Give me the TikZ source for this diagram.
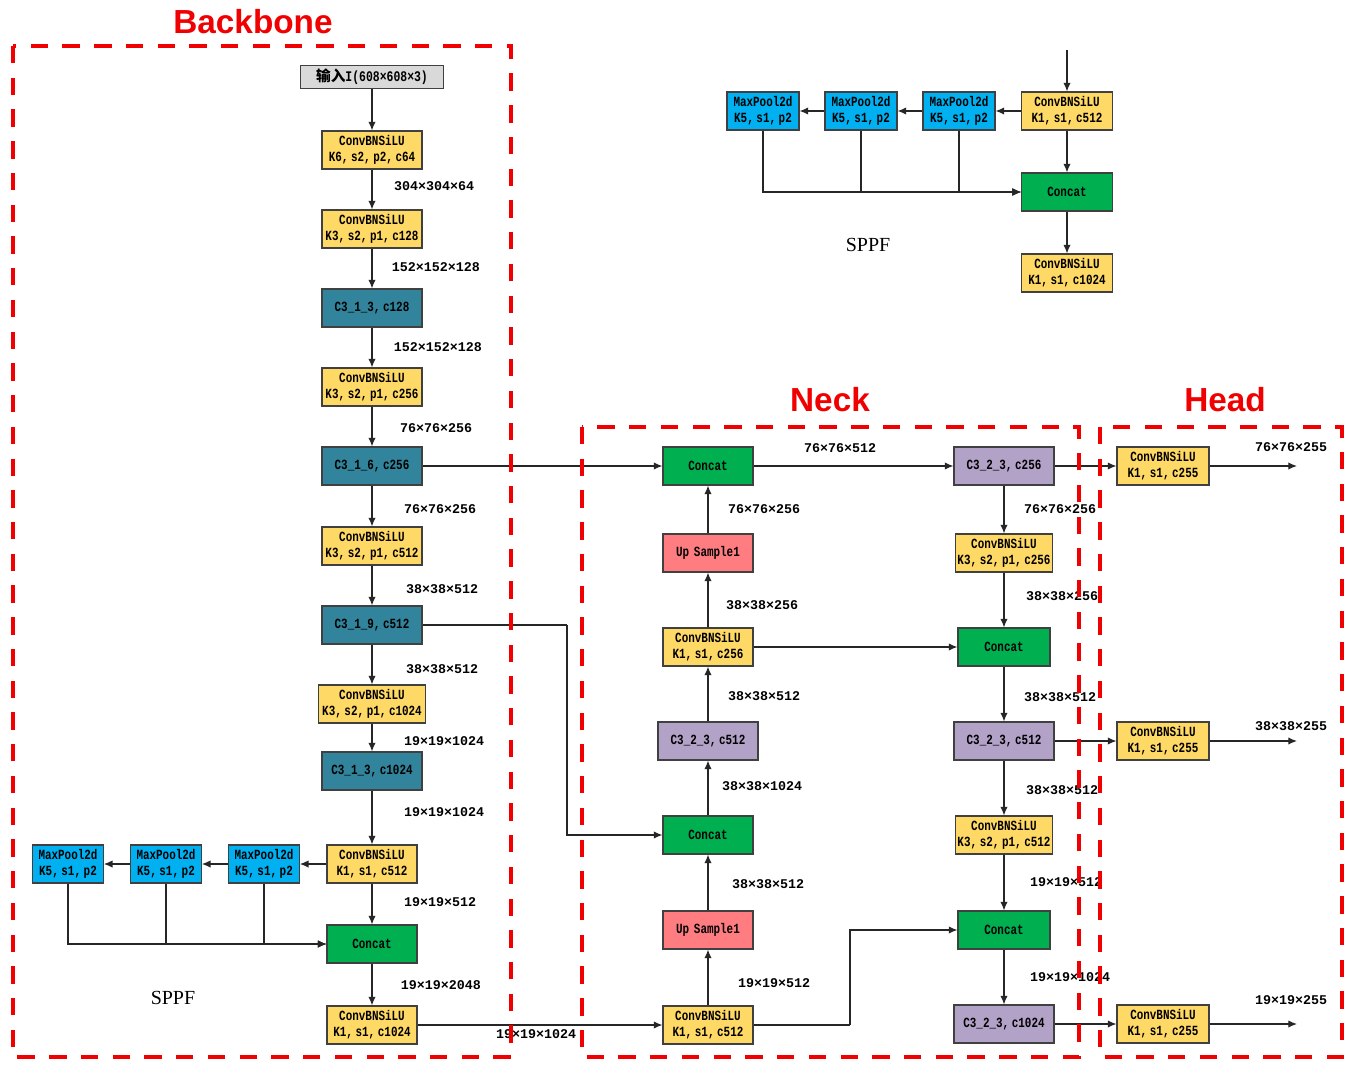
\documentclass[tikz,border=0pt]{standalone}
\usepackage{fontspec}
\usetikzlibrary{positioning,arrows.meta,calc}
\setmainfont{Liberation Serif}
\newfontfamily\boxfont[FakeStretch=0.78,WordSpace=0.4]{Liberation Mono}
\newfontfamily\dimfont{Liberation Mono}
\newfontfamily\titlefont{Liberation Sans}
\newfontfamily\cjkfont{Noto Sans CJK SC}
\definecolor{convyellow}{HTML}{FFD966}
\definecolor{cspteal}{HTML}{31849B}
\definecolor{catgreen}{HTML}{00B050}
\definecolor{poolblue}{HTML}{00B0F0}
\definecolor{uppink}{HTML}{FF7C80}
\definecolor{csppurple}{HTML}{B3A2C7}
\definecolor{inputgray}{HTML}{D9D9D9}
\definecolor{partred}{HTML}{F00000}
\tikzset{
  blk/.style={draw=black!75, line width=0.8pt, inner sep=0pt, align=center, minimum height=28.5pt, font=\boxfont\bfseries\fontsize{10.5}{12}\selectfont},
  conv/.style={blk, fill=convyellow, minimum width=75pt},
  csp/.style={blk, fill=cspteal, minimum width=75pt},
  cspn/.style={blk, fill=csppurple, minimum width=75pt},
  cat/.style={blk, fill=catgreen, minimum width=67.5pt},
  upsm/.style={blk, fill=uppink, minimum width=67.5pt},
  pool/.style={blk, fill=poolblue, minimum width=53pt},
  dim/.style={inner sep=0pt, font=\dimfont\bfseries\fontsize{10}{12}\selectfont},
  flow/.style={-{Latex[length=6.5pt,width=5.5pt]}, line width=0.9pt, draw=black!85},
  link/.style={line width=0.9pt, draw=black!85},
  part/.style={draw=partred, line width=3pt, dash pattern=on 13pt off 10.8pt},
  parttitle/.style={inner sep=0pt, text=partred, font=\titlefont\bfseries\fontsize{25}{30}\selectfont},
  sppftitle/.style={inner sep=0pt, font=\fontsize{15}{18}\selectfont}
}
\begin{document}
\begin{tikzpicture}[x=0.75pt, y=-0.75pt]
\useasboundingbox (0,0) rectangle (1362,1067);
% backbone
\node[blk, fill=inputgray, minimum width=107pt, minimum height=17pt, font=\boxfont\bfseries\fontsize{11}{12}\selectfont] (inp) at (372,77) {{\cjkfont 输入}I(608×608×3)};
\node[conv] (b1) at (372,150) {ConvBNSiLU\\K6, s2, p2, c64};
\node[conv] (b2) at (372,229) {ConvBNSiLU\\K3, s2, p1, c128};
\node[csp] (b3) at (372,308) {C3\_1\_3, c128};
\node[conv] (b4) at (372,387) {ConvBNSiLU\\K3, s2, p1, c256};
\node[csp] (b5) at (372,466) {C3\_1\_6, c256};
\node[conv] (b6) at (372,546) {ConvBNSiLU\\K3, s2, p1, c512};
\node[csp] (b7) at (372,625) {C3\_1\_9, c512};
\node[conv, minimum width=80pt] (b8) at (372,704) {ConvBNSiLU\\K3, s2, p1, c1024};
\node[csp] (b9) at (372,771) {C3\_1\_3, c1024};
\node[conv, minimum width=67.5pt] (b10) at (372,864) {ConvBNSiLU\\K1, s1, c512};
\node[cat] (b11) at (372,944) {Concat};
\node[conv, minimum width=67.5pt] (b12) at (372,1025) {ConvBNSiLU\\K1, s1, c1024};
\node[pool] (bp1) at (264,864) {MaxPool2d\\K5, s1, p2};
\node[pool] (bp2) at (166,864) {MaxPool2d\\K5, s1, p2};
\node[pool] (bp3) at (68,864) {MaxPool2d\\K5, s1, p2};
\node[sppftitle] (bsppf) at (173,998) {SPPF};
\draw[flow] (inp) -- (b1);
\draw[flow] (b1) -- (b2);
\draw[flow] (b2) -- (b3);
\draw[flow] (b3) -- (b4);
\draw[flow] (b4) -- (b5);
\draw[flow] (b5) -- (b6);
\draw[flow] (b6) -- (b7);
\draw[flow] (b7) -- (b8);
\draw[flow] (b8) -- (b9);
\draw[flow] (b9) -- (b10);
\draw[flow] (b10) -- (b11);
\draw[flow] (b11) -- (b12);
\draw[flow] (b10) -- (bp1);
\draw[flow] (bp1) -- (bp2);
\draw[flow] (bp2) -- (bp3);
\draw[flow] (bp1) |- (b11);
\draw[flow] (bp2) |- (b11);
\draw[flow] (bp3) |- (b11);
\node[dim] (d1) at (434,186) {304×304×64};
\node[dim] (d2) at (436,267) {152×152×128};
\node[dim] (d3) at (438,347) {152×152×128};
\node[dim] (d4) at (436,428) {76×76×256};
\node[dim] (d5) at (440,509) {76×76×256};
\node[dim] (d6) at (442,589) {38×38×512};
\node[dim] (d7) at (442,669) {38×38×512};
\node[dim] (d8) at (444,741) {19×19×1024};
\node[dim] (d9) at (444,812) {19×19×1024};
\node[dim] (d10) at (440,902) {19×19×512};
\node[dim] (d11) at (441,985) {19×19×2048};
% sppf detail
\coordinate (sin) at (1067,50);
\node[conv, minimum width=68pt] (s1) at (1067,111) {ConvBNSiLU\\K1, s1, c512};
\node[pool, minimum width=54pt] (sp1) at (959,111) {MaxPool2d\\K5, s1, p2};
\node[pool, minimum width=54pt] (sp2) at (861,111) {MaxPool2d\\K5, s1, p2};
\node[pool, minimum width=54pt] (sp3) at (763,111) {MaxPool2d\\K5, s1, p2};
\node[cat, minimum width=68pt] (s2) at (1067,192) {Concat};
\node[conv, minimum width=68pt] (s3) at (1067,273) {ConvBNSiLU\\K1, s1, c1024};
\node[sppftitle] (ssppf) at (868,245) {SPPF};
\draw[flow] (sin) -- (s1);
\draw[flow] (s1) -- (sp1);
\draw[flow] (sp1) -- (sp2);
\draw[flow] (sp2) -- (sp3);
\draw[flow] (s1) -- (s2);
\draw[flow] (s2) -- (s3);
\draw[flow] (sp1) |- (s2);
\draw[flow] (sp2) |- (s2);
\draw[flow] (sp3) |- (s2);
% neck
\node[cat] (n1) at (708,466) {Concat};
\node[upsm] (n2) at (708,553) {Up\hspace{3.5pt}Sample1};
\node[conv, minimum width=67.5pt] (n3) at (708,647) {ConvBNSiLU\\K1, s1, c256};
\node[cspn] (n4) at (708,741) {C3\_2\_3, c512};
\node[cat] (n5) at (708,835) {Concat};
\node[upsm] (n6) at (708,930) {Up\hspace{3.5pt}Sample1};
\node[conv, minimum width=67.5pt] (n7) at (708,1025) {ConvBNSiLU\\K1, s1, c512};
\node[cspn] (m1) at (1004,466) {C3\_2\_3, c256};
\node[conv, minimum width=73pt] (m2) at (1004,553) {ConvBNSiLU\\K3, s2, p1, c256};
\node[cat, minimum width=69pt] (m3) at (1004,647) {Concat};
\node[cspn] (m4) at (1004,741) {C3\_2\_3, c512};
\node[conv, minimum width=73pt] (m5) at (1004,835) {ConvBNSiLU\\K3, s2, p1, c512};
\node[cat, minimum width=69pt] (m6) at (1004,930) {Concat};
\node[cspn] (m7) at (1004,1024) {C3\_2\_3, c1024};
\coordinate (k1) at (567,625);
\coordinate (k2) at (850,1025);
\draw[flow] (b5) -- (n1);
\draw[link] (b7) -- (k1);
\draw[flow] (k1) |- (n5);
\draw[flow] (b12) -- (n7);
\draw[flow] (n7) -- (n6);
\draw[flow] (n6) -- (n5);
\draw[flow] (n5) -- (n4);
\draw[flow] (n4) -- (n3);
\draw[flow] (n3) -- (n2);
\draw[flow] (n2) -- (n1);
\draw[flow] (n1) -- (m1);
\draw[flow] (n3) -- (m3);
\draw[link] (n7) -- (k2);
\draw[flow] (k2) |- (m6);
\draw[flow] (m1) -- (m2);
\draw[flow] (m2) -- (m3);
\draw[flow] (m3) -- (m4);
\draw[flow] (m4) -- (m5);
\draw[flow] (m5) -- (m6);
\draw[flow] (m6) -- (m7);
\node[dim] (e1) at (840,448) {76×76×512};
\node[dim] (e2) at (764,509) {76×76×256};
\node[dim] (e3) at (762,605) {38×38×256};
\node[dim] (e4) at (764,696) {38×38×512};
\node[dim] (e5) at (762,786) {38×38×1024};
\node[dim] (e6) at (768,884) {38×38×512};
\node[dim] (e7) at (774,983) {19×19×512};
\node[dim] (e8) at (536,1034) {19×19×1024};
\node[dim] (f1) at (1060,509) {76×76×256};
\node[dim] (f2) at (1062,596) {38×38×256};
\node[dim] (f3) at (1060,697) {38×38×512};
\node[dim] (f4) at (1062,790) {38×38×512};
\node[dim] (f5) at (1066,882) {19×19×512};
\node[dim] (f6) at (1070,977) {19×19×1024};
% head
\node[conv, minimum width=69pt] (h1) at (1163,466) {ConvBNSiLU\\K1, s1, c255};
\node[conv, minimum width=69pt] (h2) at (1163,741) {ConvBNSiLU\\K1, s1, c255};
\node[conv, minimum width=69pt] (h3) at (1163,1024) {ConvBNSiLU\\K1, s1, c255};
\coordinate (o1) at (1297,466);
\coordinate (o2) at (1297,741);
\coordinate (o3) at (1297,1024);
\draw[flow] (m1) -- (h1);
\draw[flow] (m4) -- (h2);
\draw[flow] (m7) -- (h3);
\draw[flow] (h1) -- (o1);
\draw[flow] (h2) -- (o2);
\draw[flow] (h3) -- (o3);
\node[dim] (g1) at (1291,447) {76×76×255};
\node[dim] (g2) at (1291,726) {38×38×255};
\node[dim] (g3) at (1291,1000) {19×19×255};
% frames
\draw[part] (13,46) rectangle (511,1057);
\draw[part] (582,427) rectangle (1079,1057);
\draw[part] (1100,427) rectangle (1342,1057);
\node[parttitle] (tb) at (253,22) {Backbone};
\node[parttitle] (tn) at (830,400) {Neck};
\node[parttitle] (th) at (1225,400) {Head};
\end{tikzpicture}
\end{document}
